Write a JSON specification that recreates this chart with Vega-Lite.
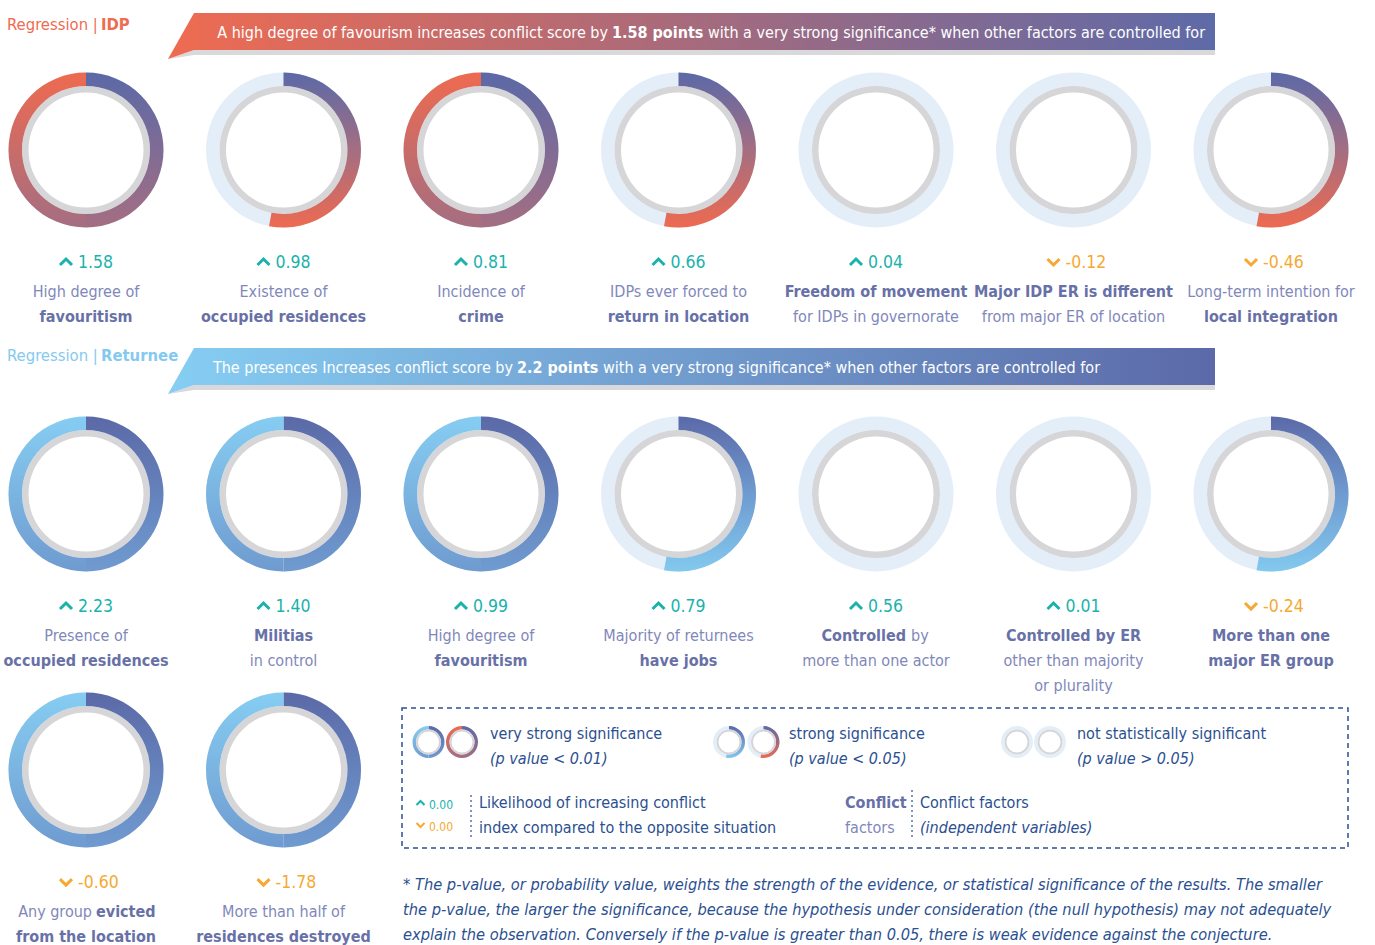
{
  "$schema": "https://vega.github.io/schema/vega-lite/v6.json",
  "width": 1375,
  "height": 945,
  "autosize": {"type": "none"},
  "padding": 0,
  "background": "white",
  "config": {
    "view": {"stroke": null},
    "axis": {"disable": true},
    "font": "DejaVu Sans Condensed, DejaVu Sans, sans-serif",
    "locale": {"number": {"decimal": ".", "thousands": ",", "grouping": [3], "currency": ["$", ""], "minus": "-"}}
  },
  "datasets": {
    "items": [
      {"group": "IDP", "col": 0, "row": 0, "value": 1.58, "sig": "very strong", "text1": "High degree of", "key2": "favouritism"},
      {"group": "IDP", "col": 1, "row": 0, "value": 0.98, "sig": "strong", "text1": "Existence of", "key2": "occupied residences"},
      {"group": "IDP", "col": 2, "row": 0, "value": 0.81, "sig": "very strong", "text1": "Incidence of", "key2": "crime"},
      {"group": "IDP", "col": 3, "row": 0, "value": 0.66, "sig": "strong", "text1": "IDPs ever forced to", "key2": "return in location"},
      {"group": "IDP", "col": 4, "row": 0, "value": 0.04, "sig": "not significant", "key1": "Freedom of movement", "text2": "for IDPs in governorate"},
      {"group": "IDP", "col": 5, "row": 0, "value": -0.12, "sig": "not significant", "key1": "Major IDP ER is different", "text2": "from major ER of location"},
      {"group": "IDP", "col": 6, "row": 0, "value": -0.46, "sig": "strong", "text1": "Long-term intention for", "key2": "local integration"},
      {"group": "Returnee", "col": 0, "row": 1, "value": 2.23, "sig": "very strong", "text1": "Presence of", "key2": "occupied residences"},
      {"group": "Returnee", "col": 1, "row": 1, "value": 1.40, "sig": "very strong", "key1": "Militias", "text2": "in control"},
      {"group": "Returnee", "col": 2, "row": 1, "value": 0.99, "sig": "very strong", "text1": "High degree of", "key2": "favouritism"},
      {"group": "Returnee", "col": 3, "row": 1, "value": 0.79, "sig": "strong", "text1": "Majority of returnees", "key2": "have jobs"},
      {"group": "Returnee", "col": 4, "row": 1, "value": 0.56, "sig": "not significant", "key1a": "Controlled", "text1b": "by", "text2": "more than one actor"},
      {"group": "Returnee", "col": 5, "row": 1, "value": 0.01, "sig": "not significant", "key1": "Controlled by ER", "text2": "other than majority", "text3": "or plurality"},
      {"group": "Returnee", "col": 6, "row": 1, "value": -0.24, "sig": "strong", "key1": "More than one", "key2": "major ER group"},
      {"group": "Returnee", "col": 0, "row": 2, "value": -0.60, "sig": "very strong", "text1a": "Any group", "key1b": "evicted", "key2": "from the location"},
      {"group": "Returnee", "col": 1, "row": 2, "value": -1.78, "sig": "very strong", "text1": "More than half of", "key2": "residences destroyed"}
    ],
    "single": [{"note": "decoration"}]
  },
  "data": {"name": "items"},
  "layer": [
    {
      "encoding": {
        "x": {"field": "col", "type": "quantitative", "scale": {"domain": [-0.43544, 6.52658], "nice": false, "zero": false}},
        "y": {"field": "row", "type": "quantitative", "scale": {"type": "pow", "exponent": 0.85, "domain": [-0.37664, 2.6792], "reverse": true, "nice": false, "zero": false}}
      },
      "layer": [
        {"mark": {"type": "arc", "radius": 77.5, "radius2": 64, "theta": 0, "theta2": 6.2832, "fill": "#e4eef9"}},
        {"mark": {"type": "arc", "radius": 64, "radius2": 57.5, "theta": 0, "theta2": 6.2832, "fill": "#d6d6d8"}},
        {"transform": [{"filter": "datum.group === 'IDP' && datum.sig === 'very strong'"}],
         "mark": {"type": "arc", "radius": 77.5, "radius2": 64, "theta": 0, "theta2": 3.1416,
           "fill": {"gradient": "linear", "x1": 0, "y1": 0, "x2": 0, "y2": 1, "stops": [{"offset": 0, "color": "#5b69a7"}, {"offset": 1, "color": "#a46e82"}]}}},
        {"transform": [{"filter": "datum.group === 'IDP' && datum.sig === 'very strong'"}],
         "mark": {"type": "arc", "radius": 77.5, "radius2": 64, "theta": 3.1416, "theta2": 6.2832,
           "fill": {"gradient": "linear", "x1": 0, "y1": 1, "x2": 0, "y2": 0, "stops": [{"offset": 0, "color": "#a46e82"}, {"offset": 1, "color": "#ee6a50"}]}}},
        {"transform": [{"filter": "datum.group === 'Returnee' && datum.sig === 'very strong'"}],
         "mark": {"type": "arc", "radius": 77.5, "radius2": 64, "theta": 0, "theta2": 3.1416,
           "fill": {"gradient": "linear", "x1": 0, "y1": 0, "x2": 0, "y2": 1, "stops": [{"offset": 0, "color": "#5b69a7"}, {"offset": 1, "color": "#6f9bd0"}]}}},
        {"transform": [{"filter": "datum.group === 'Returnee' && datum.sig === 'very strong'"}],
         "mark": {"type": "arc", "radius": 77.5, "radius2": 64, "theta": 3.1416, "theta2": 6.2832,
           "fill": {"gradient": "linear", "x1": 0, "y1": 1, "x2": 0, "y2": 0, "stops": [{"offset": 0, "color": "#6f9bd0"}, {"offset": 1, "color": "#86cdf2"}]}}},
        {"transform": [{"filter": "datum.group === 'IDP' && datum.sig === 'strong'"}],
         "mark": {"type": "arc", "radius": 77.5, "radius2": 64, "theta": 0, "theta2": 3.33,
           "fill": {"gradient": "linear", "x1": 0, "y1": 0, "x2": 0, "y2": 1, "stops": [{"offset": 0, "color": "#5b69a7"}, {"offset": 0.5, "color": "#a46e82"}, {"offset": 1, "color": "#ee6a50"}]}}},
        {"transform": [{"filter": "datum.group === 'Returnee' && datum.sig === 'strong'"}],
         "mark": {"type": "arc", "radius": 77.5, "radius2": 64, "theta": 0, "theta2": 3.33,
           "fill": {"gradient": "linear", "x1": 0, "y1": 0, "x2": 0, "y2": 1, "stops": [{"offset": 0, "color": "#5b69a7"}, {"offset": 0.5, "color": "#6f9bd0"}, {"offset": 1, "color": "#82c9ef"}]}}},
        {"mark": {"type": "point", "filled": false, "opacity": 1, "strokeWidth": 3, "size": 144, "xOffset": -20, "yOffset": 112},
         "encoding": {
           "shape": {"condition": {"test": "datum.value >= 0", "value": "M-1,0.5L0,-0.5L1,0.5"}, "value": "M-1,-0.5L0,0.5L1,-0.5"},
           "color": {"condition": {"test": "datum.value >= 0", "value": "#19b2ac"}, "value": "#f7a831"}}},
        {"mark": {"type": "text", "align": "left", "baseline": "alphabetic", "dx": -8, "dy": 118, "fontSize": 17.5},
         "encoding": {
           "text": {"field": "value", "type": "quantitative", "format": ".2f"},
           "color": {"condition": {"test": "datum.value >= 0", "value": "#19b2ac"}, "value": "#f7a831"}}},
        {"transform": [{"filter": "isValid(datum.text1)"}],
         "mark": {"type": "text", "align": "center", "baseline": "alphabetic", "dy": 147, "fontSize": 16, "fill": "#7f88ba"},
         "encoding": {"text": {"field": "text1", "type": "nominal"}}},
        {"transform": [{"filter": "isValid(datum.key1)"}],
         "mark": {"type": "text", "align": "center", "baseline": "alphabetic", "dy": 147, "fontSize": 16, "fontWeight": "bold", "fill": "#6871a7"},
         "encoding": {"text": {"field": "key1", "type": "nominal"}}},
        {"transform": [{"filter": "isValid(datum.text2)"}],
         "mark": {"type": "text", "align": "center", "baseline": "alphabetic", "dy": 172, "fontSize": 16, "fill": "#7f88ba"},
         "encoding": {"text": {"field": "text2", "type": "nominal"}}},
        {"transform": [{"filter": "isValid(datum.key2)"}],
         "mark": {"type": "text", "align": "center", "baseline": "alphabetic", "dy": 172, "fontSize": 16, "fontWeight": "bold", "fill": "#6871a7"},
         "encoding": {"text": {"field": "key2", "type": "nominal"}}},
        {"transform": [{"filter": "isValid(datum.text3)"}],
         "mark": {"type": "text", "align": "center", "baseline": "alphabetic", "dy": 197, "fontSize": 16, "fill": "#7f88ba"},
         "encoding": {"text": {"field": "text3", "type": "nominal"}}},
        {"transform": [{"filter": "isValid(datum.key1a)"}],
         "mark": {"type": "text", "align": "right", "baseline": "alphabetic", "dx": 30, "dy": 147, "fontSize": 16, "fontWeight": "bold", "fill": "#6871a7"},
         "encoding": {"text": {"field": "key1a", "type": "nominal"}}},
        {"transform": [{"filter": "isValid(datum.text1b)"}],
         "mark": {"type": "text", "align": "left", "baseline": "alphabetic", "dx": 35, "dy": 147, "fontSize": 16, "fill": "#7f88ba"},
         "encoding": {"text": {"field": "text1b", "type": "nominal"}}},
        {"transform": [{"filter": "isValid(datum.text1a)"}],
         "mark": {"type": "text", "align": "right", "baseline": "alphabetic", "dx": 6, "dy": 147, "fontSize": 16, "fill": "#7f88ba"},
         "encoding": {"text": {"field": "text1a", "type": "nominal"}}},
        {"transform": [{"filter": "isValid(datum.key1b)"}],
         "mark": {"type": "text", "align": "left", "baseline": "alphabetic", "dx": 10, "dy": 147, "fontSize": 16, "fontWeight": "bold", "fill": "#6871a7"},
         "encoding": {"text": {"field": "key1b", "type": "nominal"}}}
      ]
    },

    {"data": {"name": "single"},
     "mark": {"type": "text", "text": "Regression |", "align": "left", "baseline": "alphabetic", "fontSize": 16.5, "fill": "#ef6b51"},
     "encoding": {"x": {"datum": -0.4}, "y": {"datum": -0.2897}}},
    {"data": {"name": "single"},
     "mark": {"type": "text", "text": "IDP", "align": "left", "baseline": "alphabetic", "fontSize": 16.5, "fontWeight": "bold", "fill": "#ef6b51"},
     "encoding": {"x": {"datum": 0.0759}, "y": {"datum": -0.2897}}},
    {"data": {"name": "single"},
     "mark": {"type": "point", "shape": "M-1,0.0439L-0.9503,0.0267L1,0.0267L1,0.0363L-0.9503,0.0363Z", "size": 1096209, "filled": true, "opacity": 1, "fill": "#d9d9db", "strokeWidth": 0},
     "encoding": {"x": {"datum": 3.0658}, "y": {"datum": -0.2727}}},
    {"data": {"name": "single"},
     "mark": {"type": "point", "shape": "M-0.9503,-0.0439L1,-0.0439L1,0.0267L-0.9503,0.0267L-1,0.0439Z", "size": 1096209, "filled": true, "opacity": 1, "strokeWidth": 0,
       "fill": {"gradient": "linear", "x1": 0, "y1": 0.5, "x2": 1, "y2": 0.5, "stops": [{"offset": 0, "color": "#ef6b51"}, {"offset": 1, "color": "#5e6aa8"}]}},
     "encoding": {"x": {"datum": 3.0658}, "y": {"datum": -0.2727}}},
    {"data": {"name": "single"},
     "mark": {"type": "text", "text": "A high degree of favourism increases conflict score by", "align": "right", "baseline": "alphabetic", "fontSize": 16, "fill": "white"},
     "encoding": {"x": {"datum": 2.643}, "y": {"datum": -0.2671}}},
    {"data": {"name": "single"},
     "mark": {"type": "text", "text": "1.58 points", "align": "left", "baseline": "alphabetic", "fontSize": 16, "fontWeight": "bold", "fill": "white"},
     "encoding": {"x": {"datum": 2.6633}, "y": {"datum": -0.2671}}},
    {"data": {"name": "single"},
     "mark": {"type": "text", "text": "with a very strong significance* when other factors are controlled for", "align": "left", "baseline": "alphabetic", "fontSize": 16, "fill": "white"},
     "encoding": {"x": {"datum": 3.1494}, "y": {"datum": -0.2671}}},

    {"data": {"name": "single"},
     "mark": {"type": "text", "text": "Regression |", "align": "left", "baseline": "alphabetic", "fontSize": 16.5, "fill": "#86c9ef"},
     "encoding": {"x": {"datum": -0.4}, "y": {"datum": 0.5627}}},
    {"data": {"name": "single"},
     "mark": {"type": "text", "text": "Returnee", "align": "left", "baseline": "alphabetic", "fontSize": 16.5, "fontWeight": "bold", "fill": "#86c9ef"},
     "encoding": {"x": {"datum": 0.0759}, "y": {"datum": 0.5627}}},
    {"data": {"name": "single"},
     "mark": {"type": "point", "shape": "M-1,0.0439L-0.9503,0.0267L1,0.0267L1,0.0363L-0.9503,0.0363Z", "size": 1096209, "filled": true, "opacity": 1, "fill": "#d9d9db", "strokeWidth": 0},
     "encoding": {"x": {"datum": 3.0658}, "y": {"datum": 0.5942}}},
    {"data": {"name": "single"},
     "mark": {"type": "point", "shape": "M-0.9503,-0.0439L1,-0.0439L1,0.0267L-0.9503,0.0267L-1,0.0439Z", "size": 1096209, "filled": true, "opacity": 1, "strokeWidth": 0,
       "fill": {"gradient": "linear", "x1": 0, "y1": 0.5, "x2": 1, "y2": 0.5, "stops": [{"offset": 0, "color": "#86cef3"}, {"offset": 1, "color": "#5b69a8"}]}},
     "encoding": {"x": {"datum": 3.0658}, "y": {"datum": 0.5942}}},
    {"data": {"name": "single"},
     "mark": {"type": "text", "text": "The presences Increases conflict score by", "align": "right", "baseline": "alphabetic", "fontSize": 16, "fill": "white"},
     "encoding": {"x": {"datum": 2.162}, "y": {"datum": 0.6005}}},
    {"data": {"name": "single"},
     "mark": {"type": "text", "text": "2.2 points", "align": "left", "baseline": "alphabetic", "fontSize": 16, "fontWeight": "bold", "fill": "white"},
     "encoding": {"x": {"datum": 2.1823}, "y": {"datum": 0.6005}}},
    {"data": {"name": "single"},
     "mark": {"type": "text", "text": "with a very strong significance* when other factors are controlled for", "align": "left", "baseline": "alphabetic", "fontSize": 16, "fill": "white"},
     "encoding": {"x": {"datum": 2.6177}, "y": {"datum": 0.6005}}},

    {"data": {"name": "single"},
     "mark": {"type": "rect", "fill": null, "fillOpacity": 0, "stroke": "#2b5091", "strokeWidth": 1.5, "strokeDash": [5, 4]},
     "encoding": {"x": {"datum": 1.6}, "x2": {"datum": 6.3899}, "y": {"datum": 1.7667}, "y2": {"datum": 2.2989}}},

    {"data": {"name": "single"}, "encoding": {"x": {"datum": 1.7342}, "y": {"datum": 1.894}},
     "layer": [
       {"mark": {"type": "arc", "radius": 16, "radius2": 12.5, "theta": 0, "theta2": 3.1416,
         "fill": {"gradient": "linear", "x1": 0, "y1": 0, "x2": 0, "y2": 1, "stops": [{"offset": 0, "color": "#5b69a7"}, {"offset": 1, "color": "#6f9bd0"}]}}},
       {"mark": {"type": "arc", "radius": 16, "radius2": 12.5, "theta": 3.1416, "theta2": 6.2832,
         "fill": {"gradient": "linear", "x1": 0, "y1": 1, "x2": 0, "y2": 0, "stops": [{"offset": 0, "color": "#6f9bd0"}, {"offset": 1, "color": "#86cdf2"}]}}},
       {"mark": {"type": "arc", "radius": 12.5, "radius2": 10.5, "theta": 0, "theta2": 6.2832, "fill": "#d6d6d8"}}
     ]},
    {"data": {"name": "single"}, "encoding": {"x": {"datum": 1.9038}, "y": {"datum": 1.894}},
     "layer": [
       {"mark": {"type": "arc", "radius": 16, "radius2": 12.5, "theta": 0, "theta2": 3.1416,
         "fill": {"gradient": "linear", "x1": 0, "y1": 0, "x2": 0, "y2": 1, "stops": [{"offset": 0, "color": "#5b69a7"}, {"offset": 1, "color": "#a46e82"}]}}},
       {"mark": {"type": "arc", "radius": 16, "radius2": 12.5, "theta": 3.1416, "theta2": 6.2832,
         "fill": {"gradient": "linear", "x1": 0, "y1": 1, "x2": 0, "y2": 0, "stops": [{"offset": 0, "color": "#a46e82"}, {"offset": 1, "color": "#ee6a50"}]}}},
       {"mark": {"type": "arc", "radius": 12.5, "radius2": 10.5, "theta": 0, "theta2": 6.2832, "fill": "#d6d6d8"}}
     ]},
    {"data": {"name": "single"}, "encoding": {"x": {"datum": 3.2557}, "y": {"datum": 1.894}},
     "layer": [
       {"mark": {"type": "arc", "radius": 16, "radius2": 12.5, "theta": 0, "theta2": 6.2832, "fill": "#e4eef9"}},
       {"mark": {"type": "arc", "radius": 16, "radius2": 12.5, "theta": 0, "theta2": 3.33,
         "fill": {"gradient": "linear", "x1": 0, "y1": 0, "x2": 0, "y2": 1, "stops": [{"offset": 0, "color": "#5b69a7"}, {"offset": 1, "color": "#82c9ef"}]}}},
       {"mark": {"type": "arc", "radius": 12.5, "radius2": 10.5, "theta": 0, "theta2": 6.2832, "fill": "#d6d6d8"}}
     ]},
    {"data": {"name": "single"}, "encoding": {"x": {"datum": 3.4304}, "y": {"datum": 1.894}},
     "layer": [
       {"mark": {"type": "arc", "radius": 16, "radius2": 12.5, "theta": 0, "theta2": 6.2832, "fill": "#e4eef9"}},
       {"mark": {"type": "arc", "radius": 16, "radius2": 12.5, "theta": 0, "theta2": 3.33,
         "fill": {"gradient": "linear", "x1": 0, "y1": 0, "x2": 0, "y2": 1, "stops": [{"offset": 0, "color": "#5b69a7"}, {"offset": 1, "color": "#ee6a50"}]}}},
       {"mark": {"type": "arc", "radius": 12.5, "radius2": 10.5, "theta": 0, "theta2": 6.2832, "fill": "#d6d6d8"}}
     ]},
    {"data": {"name": "single"}, "encoding": {"x": {"datum": 4.7139}, "y": {"datum": 1.894}},
     "layer": [
       {"mark": {"type": "arc", "radius": 16, "radius2": 12.5, "theta": 0, "theta2": 6.2832, "fill": "#e4eef9"}},
       {"mark": {"type": "arc", "radius": 12.5, "radius2": 10.5, "theta": 0, "theta2": 6.2832, "fill": "#d6d6d8"}}
     ]},
    {"data": {"name": "single"}, "encoding": {"x": {"datum": 4.881}, "y": {"datum": 1.894}},
     "layer": [
       {"mark": {"type": "arc", "radius": 16, "radius2": 12.5, "theta": 0, "theta2": 6.2832, "fill": "#e4eef9"}},
       {"mark": {"type": "arc", "radius": 12.5, "radius2": 10.5, "theta": 0, "theta2": 6.2832, "fill": "#d6d6d8"}}
     ]},

    {"data": {"name": "single"},
     "mark": {"type": "text", "text": "very strong significance", "align": "left", "baseline": "alphabetic", "fontSize": 16, "fill": "#2b5091"},
     "encoding": {"x": {"datum": 2.0456}, "y": {"datum": 1.8827}}},
    {"data": {"name": "single"},
     "mark": {"type": "text", "text": "(p value < 0.01)", "align": "left", "baseline": "alphabetic", "fontSize": 16, "fontStyle": "italic", "fill": "#2b5091"},
     "encoding": {"x": {"datum": 2.0456}, "y": {"datum": 1.977}}},
    {"data": {"name": "single"},
     "mark": {"type": "text", "text": "strong significance", "align": "left", "baseline": "alphabetic", "fontSize": 16, "fill": "#2b5091"},
     "encoding": {"x": {"datum": 3.5595}, "y": {"datum": 1.8827}}},
    {"data": {"name": "single"},
     "mark": {"type": "text", "text": "(p value < 0.05)", "align": "left", "baseline": "alphabetic", "fontSize": 16, "fontStyle": "italic", "fill": "#2b5091"},
     "encoding": {"x": {"datum": 3.5595}, "y": {"datum": 1.977}}},
    {"data": {"name": "single"},
     "mark": {"type": "text", "text": "not statistically significant", "align": "left", "baseline": "alphabetic", "fontSize": 16, "fill": "#2b5091"},
     "encoding": {"x": {"datum": 5.0177}, "y": {"datum": 1.8827}}},
    {"data": {"name": "single"},
     "mark": {"type": "text", "text": "(p value > 0.05)", "align": "left", "baseline": "alphabetic", "fontSize": 16, "fontStyle": "italic", "fill": "#2b5091"},
     "encoding": {"x": {"datum": 5.0177}, "y": {"datum": 1.977}}},

    {"data": {"name": "single"},
     "mark": {"type": "point", "shape": "M-1,0.5L0,-0.5L1,0.5", "size": 64, "filled": false, "opacity": 1, "strokeWidth": 2, "stroke": "#19b2ac"},
     "encoding": {"x": {"datum": 1.6937}, "y": {"datum": 2.1256}}},
    {"data": {"name": "single"},
     "mark": {"type": "point", "shape": "M-1,-0.5L0,0.5L1,-0.5", "size": 64, "filled": false, "opacity": 1, "strokeWidth": 2, "stroke": "#f7a831"},
     "encoding": {"x": {"datum": 1.6937}, "y": {"datum": 2.2101}}},
    {"data": {"name": "single"},
     "mark": {"type": "text", "text": "0.00", "align": "left", "baseline": "alphabetic", "fontSize": 12, "dy": 1, "fill": "#19b2ac"},
     "encoding": {"x": {"datum": 1.7367}, "y": {"datum": 2.1448}}},
    {"data": {"name": "single"},
     "mark": {"type": "text", "text": "0.00", "align": "left", "baseline": "alphabetic", "fontSize": 12, "dy": -2, "fill": "#f7a831"},
     "encoding": {"x": {"datum": 1.7367}, "y": {"datum": 2.241}}},
    {"data": {"name": "single"},
     "mark": {"type": "rule", "stroke": "#2b5091", "strokeWidth": 1.2, "strokeDash": [2, 3]},
     "encoding": {"x": {"datum": 1.9494}, "y": {"datum": 2.095}, "y2": {"datum": 2.2603}}},
    {"data": {"name": "single"},
     "mark": {"type": "rule", "stroke": "#2b5091", "strokeWidth": 1.2, "strokeDash": [2, 3]},
     "encoding": {"x": {"datum": 4.1823}, "y": {"datum": 2.0759}, "y2": {"datum": 2.2603}}},
    {"data": {"name": "single"},
     "mark": {"type": "text", "text": ["Likelihood of increasing conflict", "index compared to the opposite situation"], "lineHeight": 25, "align": "left", "baseline": "alphabetic", "fontSize": 16, "fill": "#2b5091"},
     "encoding": {"x": {"datum": 1.9899}, "y": {"datum": 2.1448}}},
    {"data": {"name": "single"},
     "mark": {"type": "text", "text": "Conflict", "align": "left", "baseline": "alphabetic", "fontSize": 16, "fontWeight": "bold", "fill": "#6871a7"},
     "encoding": {"x": {"datum": 3.843}, "y": {"datum": 2.1448}}},
    {"data": {"name": "single"},
     "mark": {"type": "text", "text": "factors", "align": "left", "baseline": "alphabetic", "fontSize": 16, "fill": "#7f88ba"},
     "encoding": {"x": {"datum": 3.843}, "y": {"datum": 2.241}}},
    {"data": {"name": "single"},
     "mark": {"type": "text", "text": "Conflict factors", "align": "left", "baseline": "alphabetic", "fontSize": 16, "fill": "#2b5091"},
     "encoding": {"x": {"datum": 4.2228}, "y": {"datum": 2.1448}}},
    {"data": {"name": "single"},
     "mark": {"type": "text", "text": "(independent variables)", "align": "left", "baseline": "alphabetic", "fontSize": 16, "fontStyle": "italic", "fill": "#2b5091"},
     "encoding": {"x": {"datum": 4.2228}, "y": {"datum": 2.241}}},
    {"data": {"name": "single"},
     "mark": {"type": "text", "text": ["* The p-value, or probability value, weights the strength of the evidence, or statistical significance of the results. The smaller", "the p-value, the larger the significance, because the hypothesis under consideration (the null hypothesis) may not adequately", "explain the observation. Conversely if the p-value is greater than 0.05, there is weak evidence against the conjecture."], "lineHeight": 25, "align": "left", "baseline": "alphabetic", "fontSize": 16.3, "fontStyle": "italic", "fill": "#2b5091"},
     "encoding": {"x": {"datum": 1.6051}, "y": {"datum": 2.4626}}}
  ]
}
